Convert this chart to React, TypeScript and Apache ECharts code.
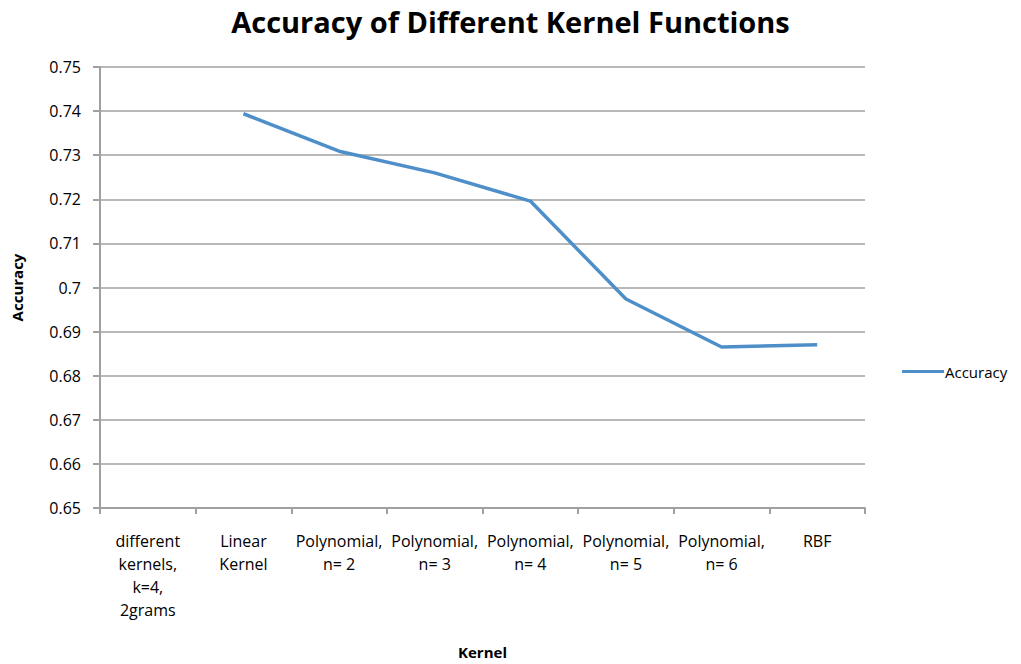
import React, { useEffect, useRef } from "react";
import * as echarts from "echarts";

const TITLE = "Accuracy of Different Kernel Functions";
const categories = [
  "different\nkernels,\nk=4,\n2grams",
  "Linear\nKernel",
  "Polynomial,\nn= 2",
  "Polynomial,\nn= 3",
  "Polynomial,\nn= 4",
  "Polynomial,\nn= 5",
  "Polynomial,\nn= 6",
  "RBF",
];
const accuracy: (number | null)[] = [null, 0.7394, 0.7309, 0.726, 0.7196, 0.6974, 0.6865, 0.687];
const yMin = 0.65;
const yMax = 0.75;
const yStep = 0.01;

export default function App() {
  const ref = useRef<HTMLDivElement>(null);
  useEffect(() => {
    if (!ref.current) return;
    const chart = echarts.init(ref.current, null, { renderer: "svg" });
    const font = "'Open Sans', Lato, sans-serif";
    chart.setOption({
      animation: false,
      backgroundColor: "#ffffff",
      textStyle: { fontFamily: font },
      title: {
        text: TITLE,
        left: "center",
        top: 2,
        textStyle: { fontFamily: font, fontWeight: "bold", fontSize: 29, color: "#000" },
      },
      grid: { left: 100, right: 156, top: 67, bottom: 155, containLabel: false },
      legend: {
        show: true,
        orient: "vertical",
        left: 897,
        top: 359,
        icon: "rect",
        itemWidth: 42,
        itemHeight: 3,
        itemGap: 4,
        textStyle: { fontFamily: font, fontSize: 15, color: "#000", padding: [0, 0, 0, -4] },
        data: ["Accuracy"],
      },
      xAxis: {
        type: "category",
        data: categories,
        boundaryGap: true,
        name: "Kernel",
        nameLocation: "middle",
        nameGap: 136,
        nameTextStyle: { fontFamily: font, fontWeight: "bold", fontSize: 15, color: "#000" },
        axisLine: { lineStyle: { color: "#a0a0a0", width: 2 } },
        axisTick: { show: true, alignWithLabel: false, length: 6, lineStyle: { color: "#a0a0a0", width: 2 } },
        axisLabel: {
          interval: 0,
          margin: 21,
          fontFamily: font,
          fontSize: 16,
          lineHeight: 23,
          color: "#000",
        },
        splitLine: { show: false },
      },
      yAxis: {
        type: "value",
        min: yMin,
        max: yMax,
        interval: yStep,
        name: "Accuracy",
        nameLocation: "middle",
        nameGap: 76,
        nameRotate: 90,
        nameTextStyle: { fontFamily: font, fontWeight: "bold", fontSize: 15, color: "#000" },
        axisLine: { show: true, lineStyle: { color: "#a0a0a0", width: 2 } },
        axisTick: { show: true, length: 7, lineStyle: { color: "#a0a0a0", width: 2 } },
        axisLabel: {
          margin: 19,
          fontFamily: font,
          fontSize: 16,
          color: "#000",
          formatter: (v: number) => String(parseFloat(v.toFixed(2))),
        },
        splitLine: { show: true, lineStyle: { color: "#b8b8b8", width: 2 } },
      },
      series: [
        {
          name: "Accuracy",
          type: "line",
          data: accuracy,
          connectNulls: false,
          showSymbol: false,
          symbol: "none",
          lineStyle: { color: "#4f8fc9", width: 3.5 },
          itemStyle: { color: "#4f8fc9" },
        },
      ],
    });
    return () => chart.dispose();
  }, []);
  return (
    <div
      ref={ref}
      style={{ position: "fixed", left: 0, top: 0, width: 1021, height: 664 }}
    />
  );
}
